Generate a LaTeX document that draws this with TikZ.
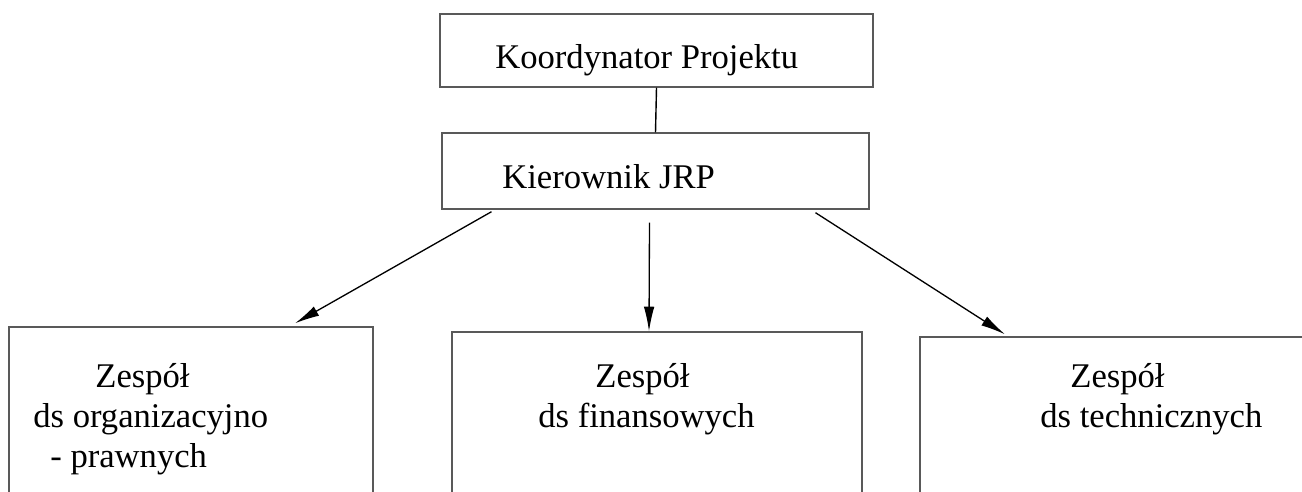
\documentclass[tikz,border=0pt]{standalone}
\usepackage{fontspec}
\setmainfont{Liberation Serif}
\usetikzlibrary{arrows.meta,positioning,calc}
\tikzset{
    %Define standard arrow tip
    >={Latex[length=14pt,width=6pt]},
    %Define style for boxes
    ramka/.style={
           rectangle,
           draw=black!65, line width=0.8pt,
           inner sep=0pt},
    %Define style for texts
    napis/.style={
           anchor=base west,
           inner sep=0pt,
           font=\fontsize{19.7}{24}\selectfont},
    % Define arrow style
    strzalka/.style={
           ->,
           line width=0.75pt}
}

\begin{document}
\begin{tikzpicture}[x=0.02cm,y=-0.02cm]
  \useasboundingbox (0,0) rectangle (1302,491);
  \clip (0,0) rectangle (1302,491);
  %boxes
  \node[ramka, minimum width=8.66cm, minimum height=1.46cm] (koord) at (656.5,50.5) {};
  \node[ramka, minimum width=8.54cm, minimum height=1.52cm] (kier) at (655.5,171) {};
  \node[ramka, minimum width=7.28cm, minimum height=4cm] (zespOrg) at (191,427) {};
  \node[ramka, minimum width=8.2cm, minimum height=4cm] (zespFin) at (657,432) {};
  \node[ramka, minimum width=8.4cm, minimum height=4cm] (zespTech) at (1130,437) {};
  %texts
  \node[napis] (tKoord) at (495,68) {Koordynator Projektu};
  \node[napis] (tKier) at (502,188) {Kierownik JRP};
  \node[napis] (tOrgA) at (95,387) {Zespół};
  \node[napis] (tOrgB) at (33,427) {ds organizacyjno};
  \node[napis] (tOrgC) at (50,467) {- prawnych};
  \node[napis] (tFinA) at (595,387) {Zespół};
  \node[napis] (tFinB) at (538,427) {ds finansowych};
  \node[napis] (tTechA) at (1070,387) {Zespół};
  \node[napis] (tTechB) at (1040,427) {ds technicznych};
  %connectors
  \draw[line width=0.8pt] (koord.south) -- (kier.north);
  \draw[strzalka] ($(kier.south)+(-164,2)$) -- ($(zespOrg.north)+(104,-3)$);
  \draw[strzalka] ($(kier.south)+(-6,13)$) -- ($(zespFin.north)+(-8,0)$);
  \draw[strzalka] ($(kier.south)+(160,3)$) -- ($(zespTech.north)+(-125,-2)$);
\end{tikzpicture}
\end{document}
